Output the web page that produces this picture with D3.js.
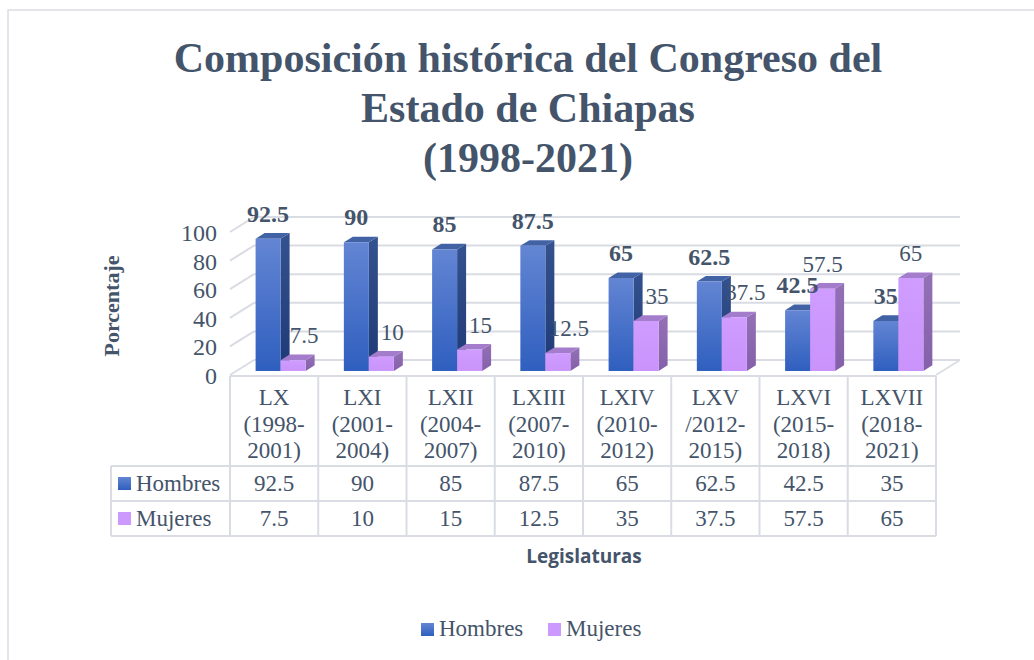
<!DOCTYPE html>
<html>
<head>
<meta charset="utf-8">
<script src="https://cdn.jsdelivr.net/npm/d3@7"></script>
<style>
  body { margin: 0; background: #fff; }
  svg { display: block; }
  text { font-family: "Liberation Serif", "Times New Roman", serif; fill: #44546a; }
</style>
</head>
<body>
<svg width="1034" height="660"></svg>
<script>
// data
const legislaturas = ["LX", "LXI", "LXII", "LXIII", "LXIV", "LXV", "LXVI", "LXVII"];
const periodos = [
  ["(1998-", "2001)"], ["(2001-", "2004)"], ["(2004-", "2007)"], ["(2007-", "2010)"],
  ["(2010-", "2012)"], ["/2012-", "2015)"], ["(2015-", "2018)"], ["(2018-", "2021)"]
];
const series = ["Hombres", "Mujeres"];
const hombres = [92.5, 90, 85, 87.5, 65, 62.5, 42.5, 35];
const mujeres = [7.5, 10, 15, 12.5, 35, 37.5, 57.5, 65];
const yTicks = [0, 20, 40, 60, 80, 100];
const titleLines = ["Composición histórica del Congreso del", "Estado de Chiapas", "(1998-2021)"];

const svg = d3.select("svg");
const gridColor = "#d9dce3";

// chart frame
svg.append("rect")
  .attr("x", 8).attr("y", 10)
  .attr("width", 1100).attr("height", 700)
  .attr("fill", "none")
  .attr("stroke", "#dadde3")
  .attr("stroke-width", 1.5);

// title
svg.append("g").selectAll("text")
  .data(titleLines)
  .enter().append("text")
  .attr("x", 528)
  .attr("y", (d, i) => 72 + i * 50)
  .attr("text-anchor", "middle")
  .style("font-size", "42px")
  .style("font-weight", "bold")
  .text(d => d);

// pseudo 3D: depth offset
const DX = 24, DY = 15;
const x = d3.scaleBand().domain(legislaturas).range([230, 936]);
const sub = d3.scaleBand().domain(series).range([-25, 25]);
const y = d3.scaleLinear().domain([0, 100]).range([375, 232]);
const proj = (px, v, t) => [px + t * DX, y(v) - t * DY];

const defs = svg.append("defs");
function grad(id, c1, c2) {
  const g = defs.append("linearGradient").attr("id", id)
    .attr("x1", 0).attr("y1", 0).attr("x2", 0).attr("y2", 1);
  g.append("stop").attr("offset", "0%").attr("stop-color", c1);
  g.append("stop").attr("offset", "100%").attr("stop-color", c2);
}
grad("hFront", "#6385d3", "#2f5fbf");
grad("hSide", "#34528f", "#1e3a76");
grad("mFront", "#cf9cff", "#c993fb");
grad("mSide", "#9470b6", "#8460aa");

const faces = {
  Hombres: { front: "url(#hFront)", side: "url(#hSide)", top: "#4262a6", key: "url(#hFront)" },
  Mujeres: { front: "url(#mFront)", side: "url(#mSide)", top: "#a47ccc", key: "#cc99ff" }
};

// back wall gridlines + left wall diagonals
const grid = svg.append("g");
grid.selectAll(".back")
  .data(yTicks)
  .enter().append("line")
  .attr("x1", d => proj(230, d, 1)[0])
  .attr("x2", d => proj(936, d, 1)[0])
  .attr("y1", d => proj(230, d, 1)[1])
  .attr("y2", d => proj(936, d, 1)[1])
  .attr("stroke", gridColor).attr("stroke-width", 2);
grid.selectAll(".side")
  .data(yTicks)
  .enter().append("line")
  .attr("x1", d => proj(230, d, 0)[0])
  .attr("y1", d => proj(230, d, 0)[1])
  .attr("x2", d => proj(230, d, 1)[0])
  .attr("y2", d => proj(230, d, 1)[1])
  .attr("stroke", gridColor).attr("stroke-width", 2);
grid.append("line")
  .attr("x1", proj(936, 0, 0)[0]).attr("y1", proj(936, 0, 0)[1])
  .attr("x2", proj(936, 0, 1)[0]).attr("y2", proj(936, 0, 1)[1])
  .attr("stroke", gridColor).attr("stroke-width", 1.5);

// y axis labels
svg.append("g").selectAll("text")
  .data(yTicks)
  .enter().append("text")
  .attr("x", 217)
  .attr("y", d => y(d) + 9)
  .attr("text-anchor", "end")
  .style("font-size", "24px")
  .text(d => d);

svg.append("text")
  .attr("transform", "translate(119,306) rotate(-90)")
  .attr("text-anchor", "middle")
  .style("font-size", "22px")
  .style("font-weight", "bold")
  .text("Porcentaje");

// bars
const t0 = 0.27, t1 = 0.27 + 9 / DX;
const rows = legislaturas.map((d, i) => ({ key: d, Hombres: hombres[i], Mujeres: mujeres[i] }));
const poly = pts => pts.map(p => p.join(",")).join(" ");
const bars = svg.append("g");
rows.forEach(r => {
  series.forEach(s => {
    const v = r[s];
    const x0 = x(r.key) + x.bandwidth() / 2 + sub(s);
    const x1 = x0 + sub.bandwidth();
    const f = faces[s];
    bars.append("polygon")
      .attr("points", poly([proj(x1, 0, t0), proj(x1, v, t0), proj(x1, v, t1), proj(x1, 0, t1)]))
      .attr("fill", f.side);
    bars.append("polygon")
      .attr("points", poly([proj(x0, v, t0), proj(x0, v, t1), proj(x1, v, t1), proj(x1, v, t0)]))
      .attr("fill", f.top);
    bars.append("polygon")
      .attr("points", poly([proj(x0, 0, t0), proj(x0, v, t0), proj(x1, v, t0), proj(x1, 0, t0)]))
      .attr("fill", f.front);
  });
});

// data labels
rows.forEach(r => {
  series.forEach(s => {
    const v = r[s];
    const x0 = x(r.key) + x.bandwidth() / 2 + sub(s);
    const cx = proj(x0 + sub.bandwidth() / 2, v, t0)[0];
    const shift = (s === "Mujeres" && r.Mujeres < r.Hombres) ? 11 : 0;
    svg.append("text")
      .attr("x", cx + shift)
      .attr("y", proj(x0, v, t0)[1] - 17)
      .attr("text-anchor", "middle")
      .style("font-size", s === "Hombres" ? "24px" : "23px")
      .style("font-weight", s === "Hombres" ? "bold" : "normal")
      .text(v);
  });
});

// data table
const table = svg.append("g");
const rowY = [376, 466, 501, 536];
table.append("line").attr("x1", 230).attr("x2", 936).attr("y1", rowY[0]).attr("y2", rowY[0]);
rowY.slice(1).forEach(yy => {
  table.append("line").attr("x1", 111).attr("x2", 936).attr("y1", yy).attr("y2", yy);
});
legislaturas.forEach(d => {
  table.append("line").attr("x1", x(d)).attr("x2", x(d)).attr("y1", rowY[0]).attr("y2", rowY[3]);
});
table.append("line").attr("x1", 936).attr("x2", 936).attr("y1", rowY[0]).attr("y2", rowY[3]);
table.append("line").attr("x1", 111).attr("x2", 111).attr("y1", rowY[1]).attr("y2", rowY[3]);
table.selectAll("line").attr("stroke", gridColor).attr("stroke-width", 2);

legislaturas.forEach((d, i) => {
  const cx = x(d) + x.bandwidth() / 2;
  [d, periodos[i][0], periodos[i][1]].forEach((ln, j) => {
    table.append("text")
      .attr("x", cx).attr("y", 405 + j * 26.5)
      .attr("text-anchor", "middle")
      .style("font-size", "23px")
      .text(ln);
  });
  table.append("text")
    .attr("x", cx).attr("y", 491)
    .attr("text-anchor", "middle")
    .style("font-size", "23px")
    .text(hombres[i]);
  table.append("text")
    .attr("x", cx).attr("y", 526)
    .attr("text-anchor", "middle")
    .style("font-size", "23px")
    .text(mujeres[i]);
});

series.forEach((s, i) => {
  const yy = i === 0 ? 491 : 526;
  table.append("rect")
    .attr("x", 118).attr("y", yy - 14)
    .attr("width", 13).attr("height", 13)
    .attr("fill", faces[s].key);
  table.append("text")
    .attr("x", 136).attr("y", yy)
    .style("font-size", "23px")
    .text(s);
});

// x axis title
svg.append("text")
  .attr("x", 584).attr("y", 563)
  .attr("text-anchor", "middle")
  .style("font-family", "'Open Sans', sans-serif")
  .style("font-size", "19px")
  .style("font-weight", "bold")
  .text("Legislaturas");

// legend
const legend = svg.append("g");
const legendX = [421, 548];
series.forEach((s, i) => {
  legend.append("rect")
    .attr("x", legendX[i]).attr("y", 623)
    .attr("width", 13).attr("height", 13)
    .attr("fill", faces[s].key);
  legend.append("text")
    .attr("x", legendX[i] + 18).attr("y", 636)
    .style("font-size", "23px")
    .text(s);
});
</script>
</body>
</html>
